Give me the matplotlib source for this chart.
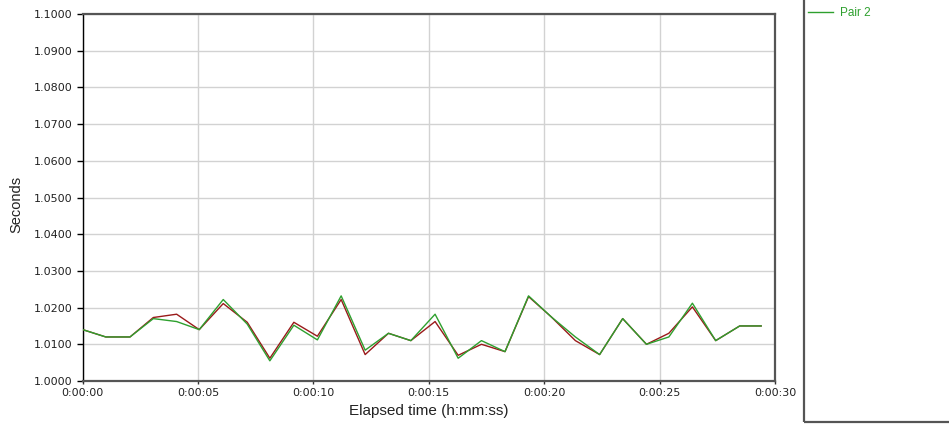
import matplotlib
matplotlib.use("Agg")
import matplotlib.pyplot as plt
from matplotlib.ticker import FixedLocator, FuncFormatter, FormatStrFormatter
from matplotlib.patches import Rectangle

# Elapsed time of each sample (seconds)
elapsed = [0.0, 1.0, 2.05, 3.06, 4.07, 5.05, 6.09, 7.13, 8.11, 9.15,
           10.17, 11.2, 12.24, 13.25, 14.22, 15.27, 16.27, 17.28, 18.3, 19.32,
           20.3, 21.35, 22.4, 23.4, 24.43, 25.4, 26.42, 27.43, 28.47, 29.4]

pair1 = [1.0140, 1.0120, 1.0120, 1.0173, 1.0182, 1.0140, 1.0211, 1.0160, 1.0062, 1.0160,
         1.0122, 1.0222, 1.0072, 1.0130, 1.0110, 1.0162, 1.0070, 1.0100, 1.0080, 1.0230,
         1.0175, 1.0110, 1.0072, 1.0170, 1.0100, 1.0130, 1.0202, 1.0110, 1.0150, 1.0150]

pair2 = [1.0140, 1.0120, 1.0120, 1.0170, 1.0162, 1.0140, 1.0222, 1.0155, 1.0055, 1.0152,
         1.0112, 1.0232, 1.0084, 1.0130, 1.0110, 1.0182, 1.0062, 1.0110, 1.0080, 1.0232,
         1.0175, 1.0120, 1.0072, 1.0170, 1.0100, 1.0120, 1.0212, 1.0110, 1.0150, 1.0150]

series_names = ["Pair 1", "Pair 2"]
x_ticks = [0, 5, 10, 15, 20, 25, 30]
y_ticks = [1.00, 1.01, 1.02, 1.03, 1.04, 1.05, 1.06, 1.07, 1.08, 1.09, 1.10]

plt.rcParams["font.family"] = ["DejaVu Sans"]

fig = plt.figure(figsize=(9.49, 4.36), dpi=100)
ax = fig.add_axes([82.7/949, 55/436, (775-82.7)/949, (381-14)/436])

red = "#9a1a1a"
green = "#2ea02e"
ax.plot(elapsed, pair1, color=red, lw=1.0, label=series_names[0], zorder=3)
l2, = ax.plot(elapsed, pair2, color=green, lw=1.0, label=series_names[1], zorder=4)

ax.set_xlim(0, 30)
ax.set_ylim(1.0, 1.1)
ax.xaxis.set_major_locator(FixedLocator(x_ticks))
ax.yaxis.set_major_locator(FixedLocator(y_ticks))

def fmt_time(v, pos):
    s = int(round(v))
    return f"{s//3600}:{(s%3600)//60:02d}:{s%60:02d}"

ax.xaxis.set_major_formatter(FuncFormatter(fmt_time))
ax.yaxis.set_major_formatter(FormatStrFormatter("%.4f"))

ax.grid(True, color="#d2d2d2", lw=1.0, zorder=0)
ax.set_axisbelow(True)

ax.tick_params(axis="y", direction="out", length=4, width=1, color="black",
               pad=3.5, labelsize=8, labelcolor="#222222")
ax.tick_params(axis="x", direction="out", length=2.5, width=1, color="#333333",
               pad=2.5, labelsize=8, labelcolor="#222222")

ax.spines["left"].set_color("black")
ax.spines["left"].set_linewidth(1.0)
for s in ["top", "right", "bottom"]:
    ax.spines[s].set_color("#555555")
    ax.spines[s].set_linewidth(1.6)

lab_font = ["Liberation Sans", "DejaVu Sans"]
ax.set_ylabel("Seconds", fontsize=10.5, color="#222222", family=lab_font)
ax.yaxis.set_label_coords((23 - 82.7) / 692.3, (381 - 204) / 367)
ax.set_xlabel("Elapsed time (h:mm:ss)", fontsize=11, color="#222222", labelpad=4,
              family=lab_font)

# legend panel
fig.patches.append(Rectangle((804/949, (436-421.7)/436), 0.3, 1.0,
                             transform=fig.transFigure, fill=False,
                             edgecolor="#555555", lw=1.6, clip_on=False))
fig.legend(handles=[l2], labels=[series_names[1]], loc="upper left",
           bbox_to_anchor=(806/949, 1.0 - 5/436), frameon=False,
           labelcolor=green, handlelength=2.1, handletextpad=0.6,
           borderaxespad=0, borderpad=0.2, prop={"family": lab_font, "size": 8.5})

fig.savefig("out.png", dpi=100)
